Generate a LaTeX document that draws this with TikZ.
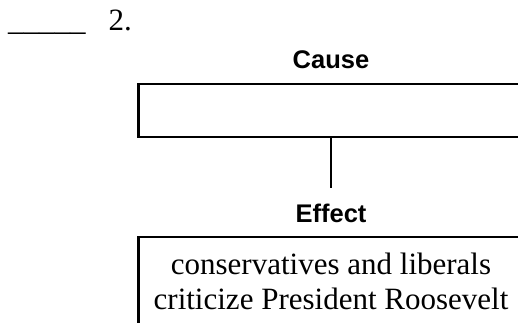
\documentclass[tikz,border=0pt]{standalone}
\usepackage{fontspec}
\setmainfont{Liberation Serif}
\setsansfont{Liberation Sans}
\usetikzlibrary{positioning}

\begin{document}
\begin{tikzpicture}[x=1pt,y=-1pt,
    head/.style={font=\sffamily\bfseries\fontsize{25.5}{28}\selectfont,anchor=base},
    frame/.style={draw,line width=2.4pt,minimum width=385pt,inner sep=0pt},
    body/.style={font=\fontsize{31}{35.5}\selectfont,align=center}]
      \useasboundingbox (0,0) rectangle (518,322);
      \clip (0,0) rectangle (518,322);

      \node[anchor=base west,inner sep=0pt,font=\fontsize{31}{35}\selectfont]
        (Q) at (8,30) {\_\_\_\_\_\hspace{23pt}2.};

      \node[head](C) at (331,68) {Cause};
      \node[frame,minimum height=53pt](Cbox) at (331,110.5) {};
      \node[head](E) at (331,222) {Effect};
      \node[frame,body,minimum height=88pt,anchor=north](Ebox) at (331,236)
        {conservatives and liberals\\criticize President Roosevelt};
      \coordinate (Ctail) at (331,188);

      \draw[line width=2.4pt] (Cbox.south) -- (Ctail);
    \end{tikzpicture}
\end{document}
